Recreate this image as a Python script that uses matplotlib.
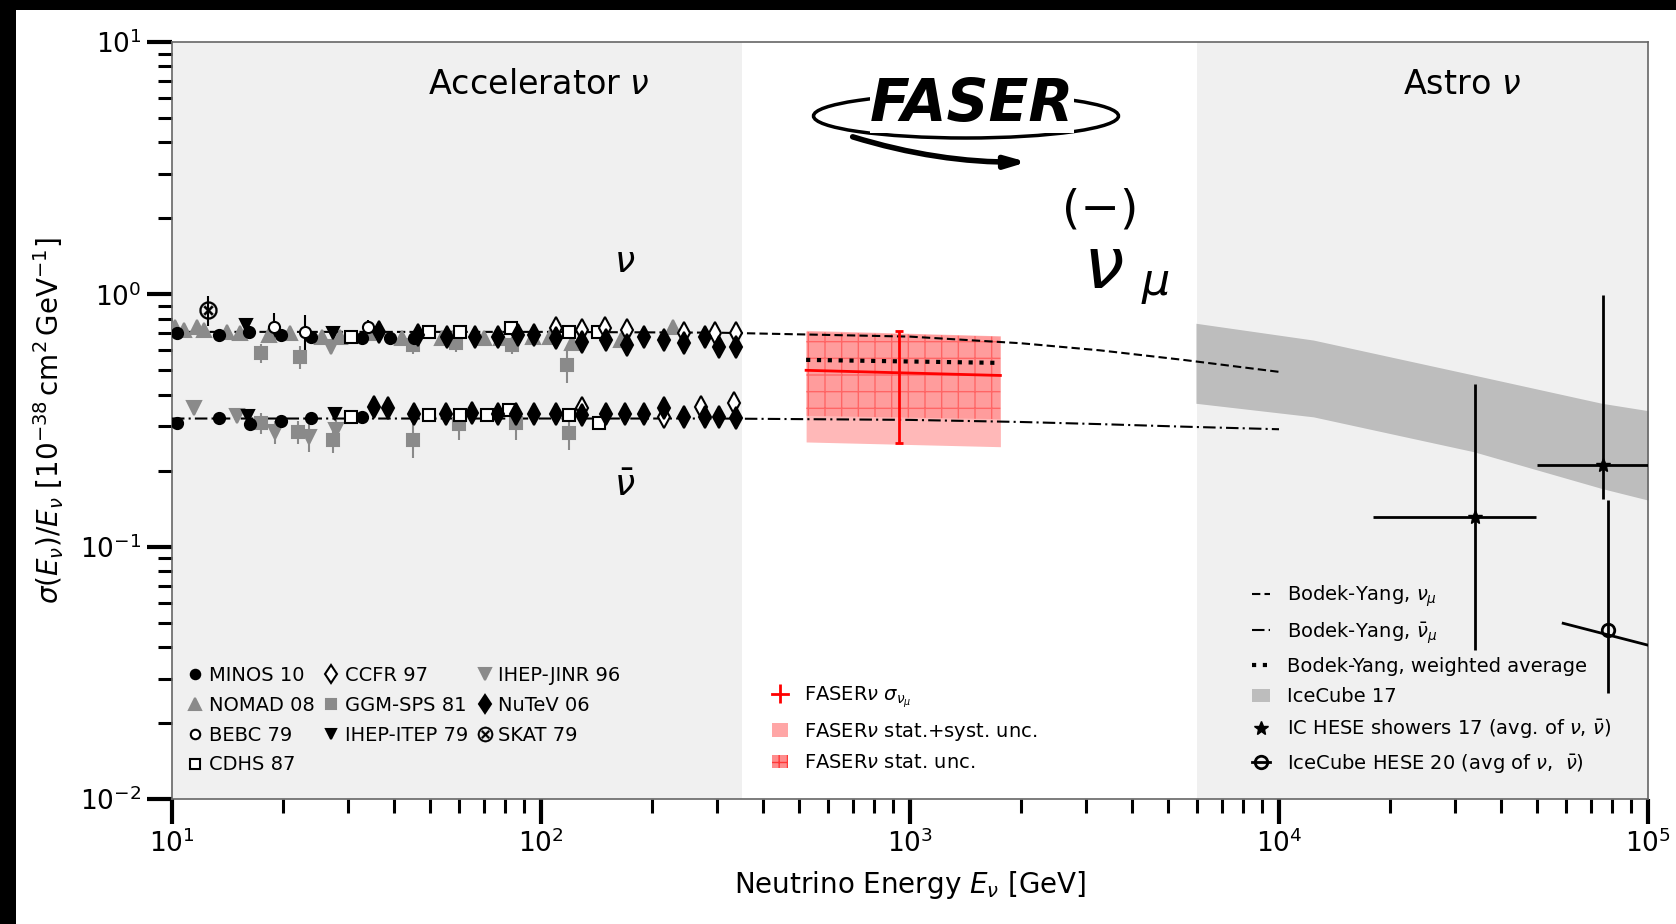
import matplotlib
matplotlib.use('Agg')
import matplotlib.pyplot as plt
from matplotlib.patches import Rectangle, Patch, Ellipse
from matplotlib.lines import Line2D

# ---- theory curves (Bodek-Yang) ----
by_e = [10, 30, 100, 300, 1000, 2000, 3270, 5500, 10000]
by_nu = [0.71, 0.71, 0.71, 0.705, 0.68, 0.64, 0.60, 0.55, 0.493]
by_nubar = [0.322, 0.322, 0.322, 0.322, 0.318, 0.312, 0.306, 0.299, 0.292]
avg_e = [523, 1758]
avg_val = [0.55, 0.535]

# ---- FASERnu projection ----
faser_e = [523, 1758]
faser_center = [0.50, 0.477]
faser_tot_lo = [0.26, 0.249]
faser_tot_hi = [0.72, 0.685]
faser_stat_lo = [0.33, 0.32]
faser_stat_hi = [0.71, 0.68]
faser_pt_e = [933]
faser_pt_val = [0.49]
faser_pt_lo = [0.258]
faser_pt_hi = [0.718]

# ---- IceCube ----
ic_e = [5957, 12390, 33650, 75000, 100000]
ic_hi = [0.768, 0.659, 0.479, 0.370, 0.346]
ic_lo = [0.370, 0.327, 0.238, 0.170, 0.153]

hese_e = [33960, 75300]
hese_val = [0.1306, 0.2106]
hese_elo = [18030, 50000]
hese_ehi = [49760, 130000]
hese_lo = [0.0389, 0.155]
hese_hi = [0.443, 0.994]

h20_e = [77800]
h20_val = [0.0467]
h20_lo = [0.0262]
h20_hi = [0.153]
h20_seg_e = [58900, 100000]
h20_seg_val = [0.0497, 0.0407]

# ---- accelerator measurements ----
minos_nu_e = [10.35, 13.4, 16.2, 19.75, 23.8, 32.8, 39.0, 45.4]
minos_nu_y = [0.70, 0.69, 0.71, 0.69, 0.68, 0.67, 0.67, 0.67]
minos_nb_e = [10.35, 13.4, 16.24, 19.75, 23.8, 32.8]
minos_nb_y = [0.308, 0.3225, 0.305, 0.314, 0.3225, 0.328]

nomad_e = [10.2, 10.8, 11.7, 12.2, 14.1, 15.3, 18.3, 20.9, 25.5, 28.5, 34.0, 42.0,
           54.0, 57.6, 70.0, 78.0, 95.0, 106, 121, 165, 228]
nomad_y = [0.74, 0.72, 0.74, 0.72, 0.71, 0.70, 0.69, 0.70, 0.68, 0.68, 0.70, 0.67,
           0.67, 0.67, 0.67, 0.67, 0.68, 0.68, 0.64, 0.66, 0.74]
nomad_err = [0.03, 0.03, 0.03, 0.02, 0.02, 0.02, 0.02, 0.02, 0.02, 0.02, 0.03, 0.02,
             0.02, 0.02, 0.02, 0.02, 0.02, 0.02, 0.03, 0.03, 0.04]

ggm_nu_e = [17.4, 22.2, 44.9, 59.0, 83.6, 118.0]
ggm_nu_y = [0.583, 0.566, 0.63, 0.64, 0.63, 0.525]
ggm_nu_err = [0.05, 0.06, 0.05, 0.05, 0.05, 0.08]
ggm_nb_e = [17.4, 22.0, 27.3, 44.9, 59.8, 85.7, 119.4]
ggm_nb_y = [0.31, 0.285, 0.265, 0.265, 0.305, 0.31, 0.281]
ggm_nb_err = [0.03, 0.03, 0.03, 0.04, 0.04, 0.045, 0.04]

cdhs_nu_e = [30.6, 49.7, 60.5, 82.8, 119, 142.6]
cdhs_nu_y = [0.68, 0.71, 0.71, 0.733, 0.71, 0.71]
cdhs_nb_e = [30.6, 49.7, 60.5, 71.3, 81.7, 119.4, 144]
cdhs_nb_y = [0.328, 0.332, 0.332, 0.332, 0.348, 0.332, 0.308]

ccfr_nu_e = [110, 129, 149, 171, 244.5, 297, 337.5]
ccfr_nu_y = [0.733, 0.72, 0.733, 0.72, 0.70, 0.70, 0.70]
ccfr_nb_e = [129, 215, 272, 334]
ccfr_nb_y = [0.355, 0.328, 0.358, 0.37]

nutev_nu_e = [36.4, 46.5, 55.8, 66.4, 76.3, 86.5, 96.0, 110, 129, 150, 171, 190,
              215, 244.5, 277.5, 304, 337.5]
nutev_nu_y = [0.71, 0.69, 0.68, 0.68, 0.68, 0.69, 0.69, 0.67, 0.65, 0.66, 0.63, 0.68,
              0.66, 0.64, 0.68, 0.62, 0.62]
nutev_nb_e = [35.2, 38.6, 45.4, 55.2, 64.9, 76.3, 85.7, 96.0, 110, 129, 150, 169,
              190, 215, 244.5, 277.5, 304, 337.5]
nutev_nb_y = [0.358, 0.355, 0.335, 0.335, 0.34, 0.335, 0.335, 0.335, 0.335, 0.332, 0.335, 0.335,
              0.335, 0.355, 0.328, 0.328, 0.328, 0.3225]

itep_nu_e = [15.9, 27.3]
itep_nu_y = [0.755, 0.70]
itep_nb_e = [16.05, 27.6]
itep_nb_y = [0.33, 0.335]

jinr_nu_e = [27.0]
jinr_nu_y = [0.62]
jinr_nu_err = [0.04]
jinr_nb_e = [11.5, 15.0, 19.0, 23.5, 27.9]
jinr_nb_y = [0.353, 0.33, 0.285, 0.273, 0.29]
jinr_nb_err = [0.02, 0.02, 0.03, 0.035, 0.03]

bebc_nu_e = [18.9, 22.97, 34.0]
bebc_nu_y = [0.74, 0.71, 0.74]
bebc_nu_err = [0.10, 0.12, 0.05]

skat_nu_e = [12.5]
skat_nu_y = [0.867]
skat_nu_err = [0.12]

GRAY = '#8a8a8a'
BG = '#f0f0f0'

plt.rcParams['font.family'] = 'DejaVu Sans'
plt.rcParams['mathtext.fontset'] = 'dejavusans'

fig = plt.figure(figsize=(16.76, 9.24), dpi=100)
ax = fig.add_axes([0.1026, 0.1353, 0.8807, 0.8192])
ax.set_xscale('log')
ax.set_yscale('log')
ax.set_xlim(10, 1e5)
ax.set_ylim(1e-2, 10)

ax.axvspan(10, 350, color=BG, lw=0, zorder=0)
ax.axvspan(6000, 1e5, color=BG, lw=0, zorder=0)


def exp_plot(e, y, err, marker, color, mfc, ms=8, mew=1.5):
    eb = ax.errorbar(e, y, yerr=err, fmt='', marker=marker, ls='none', color=color,
                     mfc=mfc, mec=color, ms=ms, mew=mew, elinewidth=1.5, capsize=0, zorder=4)
    return eb.lines[0]


def small(e):
    return [0.015 for _ in e]


h_nomad = exp_plot(nomad_e, nomad_y, nomad_err, '^', GRAY, GRAY, ms=10)
h_ggm = exp_plot(ggm_nu_e, ggm_nu_y, ggm_nu_err, 's', GRAY, GRAY)
exp_plot(ggm_nb_e, ggm_nb_y, ggm_nb_err, 's', GRAY, GRAY)
h_jinr = exp_plot(jinr_nu_e, jinr_nu_y, jinr_nu_err, 'v', GRAY, GRAY, ms=10)
exp_plot(jinr_nb_e, jinr_nb_y, jinr_nb_err, 'v', GRAY, GRAY, ms=10)
h_minos = exp_plot(minos_nu_e, minos_nu_y, small(minos_nu_e), 'o', 'k', 'k')
exp_plot(minos_nb_e, minos_nb_y, small(minos_nb_e), 'o', 'k', 'k')
h_cdhs = exp_plot(cdhs_nu_e, cdhs_nu_y, small(cdhs_nu_e), 's', 'k', 'white')
exp_plot(cdhs_nb_e, cdhs_nb_y, small(cdhs_nb_e), 's', 'k', 'white')
h_ccfr = exp_plot(ccfr_nu_e, ccfr_nu_y, small(ccfr_nu_e), 'd', 'k', 'white', ms=11)
exp_plot(ccfr_nb_e, ccfr_nb_y, small(ccfr_nb_e), 'd', 'k', 'white', ms=11)
h_nutev = exp_plot(nutev_nu_e, nutev_nu_y, small(nutev_nu_e), 'd', 'k', 'k', ms=11)
exp_plot(nutev_nb_e, nutev_nb_y, small(nutev_nb_e), 'd', 'k', 'k', ms=11)
h_itep = exp_plot(itep_nu_e, itep_nu_y, small(itep_nu_e), 'v', 'k', 'k')
exp_plot(itep_nb_e, itep_nb_y, small(itep_nb_e), 'v', 'k', 'k')
h_bebc = exp_plot(bebc_nu_e, bebc_nu_y, bebc_nu_err, 'o', 'k', 'white')
h_skat = exp_plot(skat_nu_e, skat_nu_y, skat_nu_err, r'$\otimes$', 'k', 'k', ms=13, mew=0.2)

# theory
l_nu, = ax.plot(by_e, by_nu, ls=(0, (4, 2)), color='k', lw=1.5, zorder=3)
l_nb, = ax.plot(by_e, by_nubar, ls=(0, (6, 2, 1, 2)), color='k', lw=1.5, zorder=3)
l_avg, = ax.plot(avg_e, avg_val, ls=(0, (1, 1.6)), color='k', lw=3, zorder=5)

# FASER
ax.fill_between(faser_e, faser_tot_lo, faser_tot_hi, color='red', alpha=0.28, lw=0, zorder=2)
ax.fill_between(faser_e, faser_stat_lo, faser_stat_hi, facecolor=(1, 0, 0, 0.15),
                edgecolor=(1, 0, 0, 0.35), hatch='+', lw=0, zorder=2)
ax.plot(faser_e, faser_center, color='red', lw=2, zorder=5)
ax.errorbar(faser_pt_e, faser_pt_val,
            yerr=[[faser_pt_val[0] - faser_pt_lo[0]], [faser_pt_hi[0] - faser_pt_val[0]]],
            fmt='none', ecolor='red', elinewidth=2, capsize=3, capthick=2, zorder=6)

# IceCube
ax.fill_between(ic_e, ic_lo, ic_hi, color='#bdbdbd', lw=0, zorder=1)
xerr_h = [[v - lo for v, lo in zip(hese_e, hese_elo)], [hi - v for v, hi in zip(hese_e, hese_ehi)]]
yerr_h = [[v - lo for v, lo in zip(hese_val, hese_lo)], [hi - v for v, hi in zip(hese_val, hese_hi)]]
ax.errorbar(hese_e, hese_val, xerr=xerr_h, yerr=yerr_h, fmt='*', color='k', ms=10,
            elinewidth=2, capsize=0, zorder=6)
ax.errorbar(h20_e, h20_val, yerr=[[h20_val[0] - h20_lo[0]], [h20_hi[0] - h20_val[0]]],
            fmt='o', color='k', mfc='none', ms=9, mew=2, elinewidth=2, zorder=6)
ax.plot(h20_seg_e, h20_seg_val, color='k', lw=2, zorder=6)

# ticks and axes
ax.tick_params(which='major', direction='out', length=18, width=3, labelsize=19, pad=4)
ax.tick_params(which='minor', direction='out', length=10, width=2.2)
for s in ax.spines.values():
    s.set_color('#666666')
    s.set_linewidth(1.2)
ax.set_xlabel(r'Neutrino Energy $E_\nu$ [GeV]', fontsize=20, labelpad=8)
ax.set_ylabel(r'$\sigma(E_\nu)/E_\nu$ [$10^{-38}\,\mathrm{cm}^2\,\mathrm{GeV}^{-1}$]',
              fontsize=20, labelpad=10)

ax.text(0.2484, 0.944, r'Accelerator $\nu$', transform=ax.transAxes, fontsize=24,
        ha='center', va='center')
ax.text(0.8740, 0.944, r'Astro $\nu$', transform=ax.transAxes, fontsize=24,
        ha='center', va='center')
ax.text(0.3069, 0.709, r'$\nu$', transform=ax.transAxes, fontsize=26, ha='center', va='center')
ax.text(0.3069, 0.4135, r'$\bar{\nu}$', transform=ax.transAxes, fontsize=26,
        ha='center', va='center')

# legends
leg1 = ax.legend([h_minos, h_nomad, h_bebc, h_cdhs, h_ccfr, h_ggm, h_itep, h_jinr, h_nutev, h_skat],
                 ['MINOS 10', 'NOMAD 08', 'BEBC 79', 'CDHS 87', 'CCFR 97', 'GGM-SPS 81',
                  'IHEP-ITEP 79', 'IHEP-JINR 96', 'NuTeV 06', 'SKAT 79'],
                 ncol=3, loc='lower left', bbox_to_anchor=(0.0, 0.012), frameon=False,
                 fontsize=14, handlelength=0.8, handletextpad=0.3, columnspacing=0.45,
                 labelspacing=0.55, markerscale=0.85, borderpad=0.3)
ax.add_artist(leg1)

h_fpt = ax.errorbar([], [], yerr=[], fmt='-', color='red', lw=2, elinewidth=2,
                    capsize=4, capthick=2)
p_tot = Patch(facecolor='red', alpha=0.35, lw=0)
p_stat = Patch(facecolor=(1, 0, 0, 0.45), edgecolor=(1, 0, 0, 0.6), hatch='++', lw=0)
leg2 = ax.legend([h_fpt, p_tot, p_stat],
                 [r'FASER$\nu$ $\sigma_{\nu_\mu}$', r'FASER$\nu$ stat.+syst. unc.',
                  r'FASER$\nu$ stat. unc.'],
                 loc='lower left', bbox_to_anchor=(0.395, 0.012), frameon=False, fontsize=14,
                 handlelength=0.8, handletextpad=0.8, labelspacing=0.55)
ax.add_artist(leg2)

h_ic = Patch(facecolor='#bdbdbd', lw=0)
h_star = Line2D([], [], ls='none', marker='*', color='k', ms=10)
h_circ = Line2D([], [], color='k', marker='o', mfc='none', ms=9, mew=2, lw=2)
leg3 = ax.legend([l_nu, l_nb, l_avg, h_ic, h_star, h_circ],
                 [r'Bodek-Yang, $\nu_\mu$', r'Bodek-Yang, $\bar{\nu}_\mu$',
                  'Bodek-Yang, weighted average', 'IceCube 17',
                  r'IC HESE showers 17 (avg. of $\nu$, $\bar{\nu}$)',
                  r'IceCube HESE 20 (avg of $\nu$,  $\bar{\nu}$)'],
                 loc='lower left', bbox_to_anchor=(0.72, 0.009), frameon=False, fontsize=14,
                 handlelength=0.9, handletextpad=0.9, labelspacing=0.58)

# overlay in pixel coordinates for logo and frame
ov = fig.add_axes([0, 0, 1, 1], facecolor='none')
ov.set_xlim(0, 1676)
ov.set_ylim(924, 0)
ov.axis('off')
ov.add_patch(Rectangle((0, 0), 1676, 10, color='k', lw=0))
ov.add_patch(Rectangle((0, 0), 16, 924, color='k', lw=0))

ov.add_patch(Ellipse((966, 116), 305, 44, fill=False, ec='k', lw=2.5))
ov.text(972, 104, 'FASER', fontsize=42, fontweight='heavy', fontstyle='italic',
        ha='center', va='center', color='k',
        bbox=dict(facecolor='white', edgecolor='none', pad=0))
ov.annotate('', xy=(1030, 162), xytext=(850, 136),
            arrowprops=dict(arrowstyle='-|>,head_length=1.2,head_width=0.35', color='k', lw=4,
                            connectionstyle='arc3,rad=0.08'))

ov.text(1100, 210, '(\u2212)', fontsize=34, ha='center', va='center')
ov.text(1103, 268, r'$\nu$', fontsize=52, ha='center', va='center')
ov.text(1155, 284, r'$\mu$', fontsize=32, ha='center', va='center')

fig.savefig('out.png', dpi=100)
